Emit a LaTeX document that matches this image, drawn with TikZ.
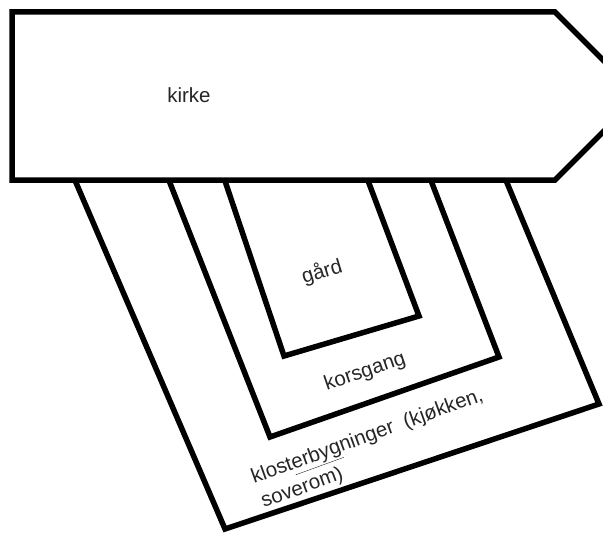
\documentclass[tikz,border=0pt]{standalone}
\usepackage{fontspec}
\setmainfont{Liberation Sans}
\begin{document}
\begin{tikzpicture}[x=1pt,y=-1pt,
  wall/.style={line width=5.5pt,line join=miter,black},
  lbl/.style={font=\fontsize{20.5}{27}\selectfont,text=black!85,inner sep=0pt}]
\useasboundingbox (0,0) rectangle (603,535);
\begin{scope}
\clip (0,0) rectangle (603,535);
% frames (open at the top, under the church)
\draw[wall] (74,178) -- (225,529) -- (599,404) -- (505,178);
\draw[wall] (168,178) -- (270,437) -- (499,357) -- (430,178);
\draw[wall] (224,178) -- (284,356) -- (419,316) -- (367,178);
% church
\draw[wall,fill=white] (12,12) -- (555,12) -- (639,96) -- (555,180) -- (12,180) -- cycle;
\end{scope}
\node[lbl] (kirke) at (189,95) {kirke};
\node[lbl,rotate=17] (gard) at (322,272) {gård};
\node[lbl,rotate=19] (kors) at (365,372) {korsgang};
\node[lbl,rotate=20,anchor=base west] (kloster1) at (254,484)
  {klost\underline{erbyg}ninger\ \ (kjøkken,};
\node[lbl,rotate=20,anchor=base west] (kloster2) at ([shift={(9.8,24)}]kloster1.base west)
  {soverom)};
\end{tikzpicture}
\end{document}
